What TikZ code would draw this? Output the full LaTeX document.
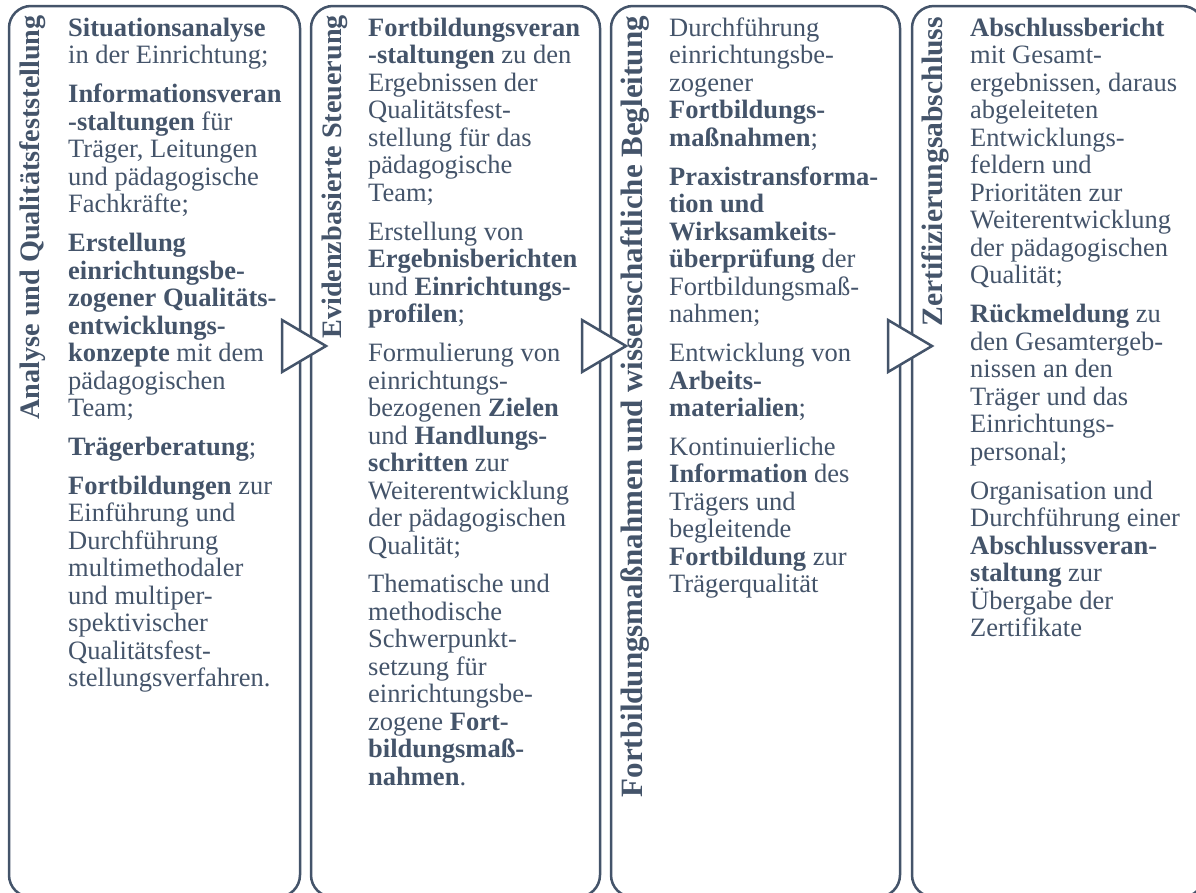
\documentclass[tikz,border=0pt]{standalone}
\usepackage{fontspec}
\setmainfont{Liberation Serif}
\definecolor{slate}{HTML}{44546A}
\newcommand{\gp}{\\[11.4pt]}
\begin{document}
\begin{tikzpicture}[x=1pt,y=1pt,
  panel/.style={draw=slate,line width=2.5pt,rounded corners=22pt,fill=white},
  arrowtri/.style={draw=slate,line width=2.5pt,fill=white,line join=miter},
  body/.style={anchor=north west,inner sep=0pt,align=left,text=slate,
    font=\fontsize{26.5}{27.5}\selectfont},
  ttl/.style={anchor=base east,inner sep=0pt,rotate=90,text=slate,
    font=\fontsize{28.2}{30}\selectfont\bfseries}]
\path[use as bounding box,clip] (0,0) rectangle (1196,-892);
% panels
\draw[panel] (9,-6) rectangle (300,-897);
\draw[panel] (311,-6) rectangle (600,-897);
\draw[panel] (611,-6) rectangle (900,-897);
\draw[panel] (912,-6) rectangle (1204,-897);
% arrows
\draw[arrowtri] (282,-320) -- (282,-372) -- (326,-346) -- cycle;
\draw[arrowtri] (582,-320) -- (582,-372) -- (626,-346) -- cycle;
\draw[arrowtri] (888,-320) -- (888,-372) -- (932,-346) -- cycle;
% titles
\node[ttl] (t1) at (39,-15) {Analyse und Qualitätsfeststellung};
\node[ttl] (t2) at (341,-15) {Evidenzbasierte Steuerung};
\node[ttl,font=\fontsize{31}{33}\selectfont\bfseries] (t3) at (642,-16) {Fortbildungsmaßnahmen und wissenschaftliche Begleitung};
\node[ttl,font=\fontsize{29.6}{31}\selectfont\bfseries] (t4) at (942,-17) {Zertifizierungsabschluss};
% bodies
\node[body] (b1) at (68,-16.8) {\strut\textbf{Situationsanalyse}\\
in der Einrichtung;\gp
\textbf{Informationsveran}\\
\textbf{-staltungen} für\\
Träger, Leitungen\\
und pädagogische\\
Fachkräfte;\gp
\textbf{Erstellung}\\
\textbf{einrichtungsbe-}\\
\textbf{zogener Qualitäts-}\\
\textbf{entwicklungs-}\\
\textbf{konzepte} mit dem\\
pädagogischen\\
Team;\gp
\textbf{Trägerberatung};\gp
\textbf{Fortbildungen} zur\\
Einführung und\\
Durchführung\\
multimethodaler\\
und multiper-\\
spektivischer\\
Qualitätsfest-\\
stellungsverfahren.};
\node[body] (b2) at (368,-16.8) {\strut\textbf{Fortbildungsveran}\\
\textbf{-staltungen} zu den\\
Ergebnissen der\\
Qualitätsfest-\\
stellung für das\\
pädagogische\\
Team;\gp
Erstellung von\\
\textbf{Ergebnisberichten}\\
und \textbf{Einrichtungs-}\\
\textbf{profilen};\gp
Formulierung von\\
einrichtungs-\\
bezogenen \textbf{Zielen}\\
und \textbf{Handlungs-}\\
\textbf{schritten} zur\\
Weiterentwicklung\\
der pädagogischen\\
Qualität;\gp
Thematische und\\
methodische\\
Schwerpunkt-\\
setzung für\\
einrichtungsbe-\\
zogene \textbf{Fort-}\\
\textbf{bildungsmaß-}\\
\textbf{nahmen}.};
\node[body] (b3) at (669,-16.8) {\strut Durchführung\\
einrichtungsbe-\\
zogener\\
\textbf{Fortbildungs-}\\
\textbf{maßnahmen};\gp
\textbf{Praxistransforma-}\\
\textbf{tion und}\\
\textbf{Wirksamkeits-}\\
\textbf{überprüfung} der\\
Fortbildungsmaß-\\
nahmen;\gp
Entwicklung von\\
\textbf{Arbeits-}\\
\textbf{materialien};\gp
Kontinuierliche\\
\textbf{Information} des\\
Trägers und\\
begleitende\\
\textbf{Fortbildung} zur\\
Trägerqualität};
\node[body] (b4) at (970,-16.8) {\strut\textbf{Abschlussbericht}\\
mit Gesamt-\\
ergebnissen, daraus\\
abgeleiteten\\
Entwicklungs-\\
feldern und\\
Prioritäten zur\\
Weiterentwicklung\\
der pädagogischen\\
Qualität;\gp
\textbf{Rückmeldung} zu\\
den Gesamtergeb-\\
nissen an den\\
Träger und das\\
Einrichtungs-\\
personal;\gp
Organisation und\\
Durchführung einer\\
\textbf{Abschlussveran-}\\
\textbf{staltung} zur\\
Übergabe der\\
Zertifikate};
\end{tikzpicture}
\end{document}
